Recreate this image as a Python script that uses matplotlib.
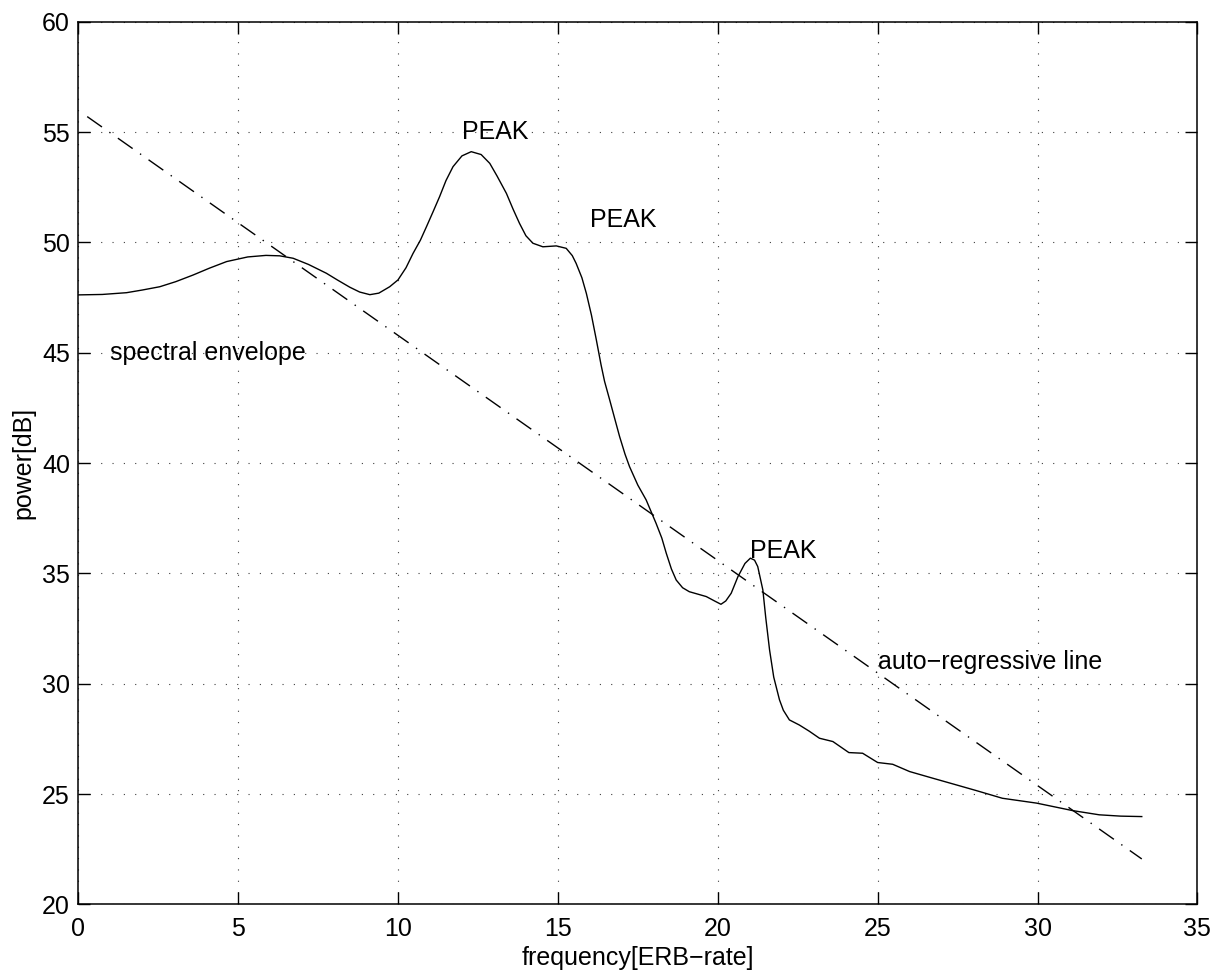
import matplotlib
matplotlib.use("Agg")
import matplotlib.pyplot as plt
import numpy as np

plt.rcParams["font.family"] = ["Liberation Sans", "DejaVu Sans"]

# spectral envelope, power in dB against ERB-rate
erb = np.array([
    0.00, 0.75, 1.51, 2.00, 2.55, 3.05, 3.59, 4.10, 4.64, 5.30, 5.87, 6.30, 6.72, 7.20, 7.76,
    8.10, 8.49, 8.80, 9.12, 9.40, 9.74, 10.00, 10.25, 10.47, 10.70, 10.89,
    11.10, 11.30, 11.50, 11.72, 12.00, 12.29, 12.60, 12.87, 13.10, 13.39,
    13.60, 13.80, 14.00, 14.22, 14.53, 14.95, 15.26, 15.45, 15.57, 15.75,
    15.89, 16.05, 16.20, 16.35, 16.46, 16.62, 16.78, 16.93, 17.10, 17.24,
    17.50, 17.76, 18.07, 18.25, 18.39, 18.55, 18.70, 18.90, 19.11, 19.40,
    19.64, 19.90, 20.10, 20.25, 20.42, 20.63, 20.85, 21.02, 21.15, 21.25,
    21.41, 21.50, 21.62, 21.75, 21.93, 22.05, 22.24, 22.55, 22.86, 23.18,
    23.60, 23.90, 24.10, 24.53, 25.00, 25.47, 26.00, 26.72, 27.45, 28.08,
    28.90, 29.97, 31.10, 31.93, 32.60, 33.26,
])
power = np.array([
    47.62, 47.64, 47.72, 47.84, 47.99, 48.22, 48.52, 48.83, 49.13, 49.34, 49.41, 49.39, 49.28, 49.00, 48.60,
    48.30, 47.97, 47.75, 47.63, 47.70, 47.99, 48.30, 48.85, 49.50, 50.10, 50.71,
    51.40, 52.07, 52.80, 53.43, 53.92, 54.11, 53.98, 53.58, 53.00, 52.22,
    51.50, 50.86, 50.30, 49.96, 49.80, 49.84, 49.73, 49.40, 49.05, 48.40,
    47.69, 46.70, 45.60, 44.45, 43.70, 42.86, 42.00, 41.20, 40.40, 39.84,
    39.00, 38.33, 37.27, 36.60, 35.91, 35.20, 34.70, 34.35, 34.17, 34.05,
    33.95, 33.75, 33.60, 33.75, 34.10, 34.85, 35.45, 35.69, 35.60, 35.31,
    34.25, 33.00, 31.53, 30.30, 29.27, 28.80, 28.36, 28.13, 27.85, 27.53,
    27.38, 27.08, 26.88, 26.85, 26.43, 26.35, 26.02, 25.72, 25.42, 25.16,
    24.81, 24.59, 24.25, 24.06, 24.00, 23.98,
])

# auto-regressive fit line end points
ar_erb = np.array([0.28, 33.26])
ar_power = np.array([55.70, 22.06])

labels = [
    (1.0, 45.0, "spectral envelope"),
    (12.0, 55.0, "PEAK"),
    (16.0, 51.0, "PEAK"),
    (21.0, 36.0, "PEAK"),
    (25.0, 31.0, "auto\u2212regressive line"),
]

fig = plt.figure(figsize=(12.17, 9.73), dpi=100)
ax = fig.add_axes([0.0643, 0.0705, 0.9196, 0.9072])

ax.plot(erb, power, color="black", lw=1.0)
ax.plot(ar_erb, ar_power, color="black", lw=1.0,
        linestyle=(0, (13, 6.5, 1, 6.5)))

for x, y, s in labels:
    ax.text(x, y, s, fontsize=18, ha="left", va="center")

ax.set_xlim(0, 35)
ax.set_ylim(20, 60)
ax.set_xticks(np.arange(0, 36, 5))
ax.set_yticks(np.arange(20, 61, 5))
ax.grid(True, color="0.25", lw=0.8, linestyle=(0, (1, 9.2)))
ax.tick_params(direction="in", length=8.5, width=1.0, labelsize=18,
               top=True, right=True, pad=6)
ax.tick_params(axis="x", pad=9)
for sp in ax.spines.values():
    sp.set_linewidth(1.1)

ax.set_xlabel("frequency[ERB\u2212rate]", fontsize=18, labelpad=4)
ax.set_ylabel("power[dB]", fontsize=18, labelpad=5)

fig.savefig("out.png", dpi=100)
